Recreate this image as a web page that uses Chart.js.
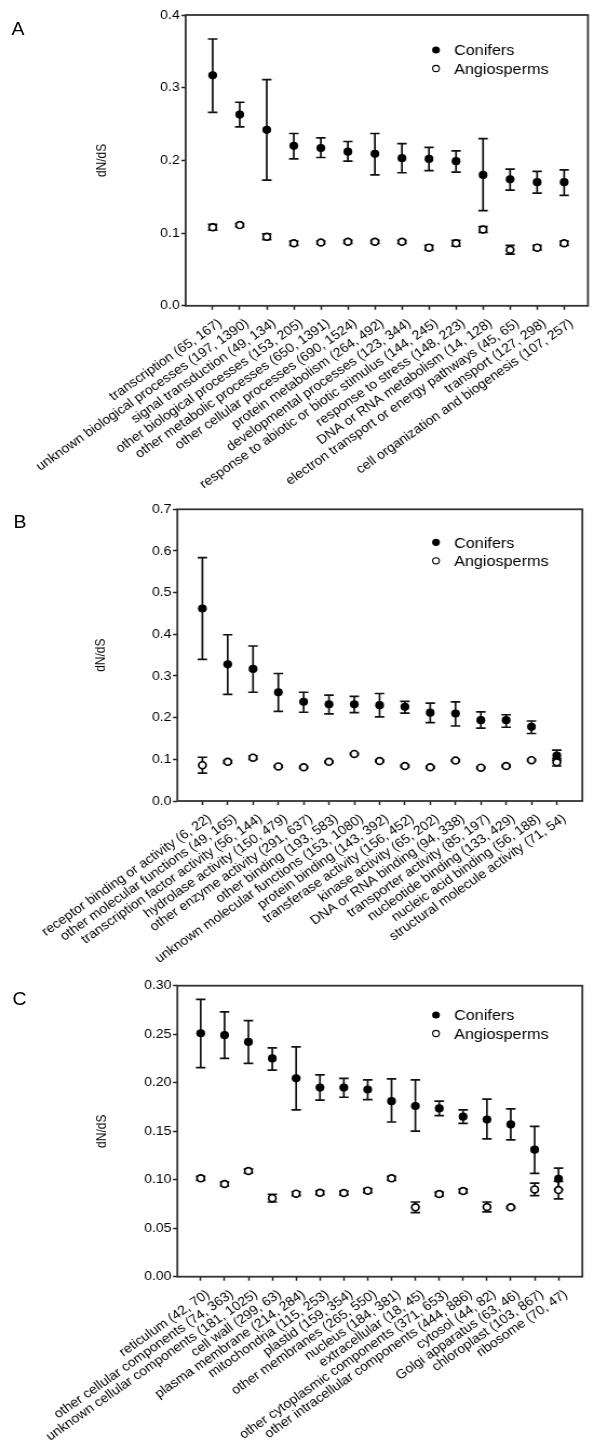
<!DOCTYPE html>
<html><head><meta charset="utf-8">
<script src="https://cdn.jsdelivr.net/npm/chart.js@4.4.1/dist/chart.umd.min.js"></script>
<style>
html,body{margin:0;padding:0;background:#fff;}
body{width:600px;height:1447px;position:relative;overflow:hidden;font-family:"Liberation Sans",Arial,sans-serif;}
#wrap{position:absolute;left:0;top:0;width:556px;height:1447px;transform:scaleX(1.08);transform-origin:0 0;}
canvas{position:absolute;left:0;}
.lbl{position:absolute;font-size:18px;line-height:18px;color:#000;font-family:"Liberation Sans",Arial,sans-serif;}
</style></head><body>
<div id="wrap">
<div class="lbl" style="left:10.6px;top:19.6px">A</div>
<div class="lbl" style="left:12.4px;top:512.6px">B</div>
<div class="lbl" style="left:11.7px;top:989.6px">C</div>
<canvas id="cA" width="556" height="490" style="top:0px;width:556px;height:490px"></canvas>
<canvas id="cB" width="556" height="478" style="top:490px;width:556px;height:478px"></canvas>
<canvas id="cC" width="556" height="479" style="top:968px;width:556px;height:479px"></canvas>
</div>
<script>
// ---- Panel A: biological processes ----
const bpCategories = [
  "transcription (65, 167)",
  "unknown biological processes (197, 1390)",
  "signal transduction (49, 134)",
  "other biological processes (153, 205)",
  "other metabolic processes (650, 1391)",
  "other cellular processes (690, 1524)",
  "protein metabolism (264, 492)",
  "developmental processes (123, 344)",
  "response to abiotic or biotic stimulus (144, 245)",
  "response to stress (148, 223)",
  "DNA or RNA metabolism (14, 128)",
  "electron transport or energy pathways (45, 65)",
  "transport (127, 298)",
  "cell organization and biogenesis (107, 257)"
];
const bpConifers   = [0.317, 0.263, 0.242, 0.220, 0.217, 0.212, 0.209, 0.203, 0.202, 0.199, 0.180, 0.174, 0.170, 0.170];
const bpConifersHi = [0.367, 0.280, 0.311, 0.237, 0.231, 0.226, 0.237, 0.223, 0.218, 0.213, 0.230, 0.188, 0.185, 0.187];
const bpConifersLo = [0.266, 0.246, 0.173, 0.202, 0.204, 0.199, 0.180, 0.183, 0.186, 0.184, 0.131, 0.159, 0.155, 0.152];
const bpAngio      = [0.108, 0.111, 0.095, 0.086, 0.087, 0.088, 0.088, 0.088, 0.080, 0.086, 0.105, 0.077, 0.080, 0.086];
const bpAngioHi    = [0.112, 0.113, 0.099, 0.089, 0.089, 0.090, 0.090, 0.090, 0.083, 0.090, 0.109, 0.083, 0.083, 0.089];
const bpAngioLo    = [0.104, 0.109, 0.091, 0.083, 0.085, 0.086, 0.086, 0.086, 0.077, 0.082, 0.101, 0.071, 0.077, 0.083];
const bpYTicks = [0, 0.4, 0.1];

// ---- Panel B: molecular functions ----
const mfCategories = [
  "receptor binding or activity (6, 22)",
  "other molecular functions (49, 165)",
  "transcription factor activity (56, 144)",
  "hydrolase activity (150, 479)",
  "other enzyme activity (291, 637)",
  "other binding (193, 583)",
  "unknown molecular functions (153, 1080)",
  "protein binding (143, 392)",
  "transferase activity (156, 452)",
  "kinase activity (65, 202)",
  "DNA or RNA binding (94, 338)",
  "transporter activity (85, 197)",
  "nucleotide binding (133, 429)",
  "nucleic acid binding (56, 188)",
  "structural molecule activity (71, 54)"
];
const mfConifers   = [0.462, 0.328, 0.317, 0.261, 0.238, 0.232, 0.232, 0.230, 0.226, 0.212, 0.210, 0.194, 0.194, 0.178, 0.109];
const mfConifersHi = [0.584, 0.399, 0.372, 0.306, 0.261, 0.254, 0.251, 0.258, 0.239, 0.235, 0.238, 0.214, 0.207, 0.192, 0.122];
const mfConifersLo = [0.340, 0.256, 0.261, 0.215, 0.213, 0.209, 0.212, 0.202, 0.211, 0.188, 0.180, 0.175, 0.177, 0.162, 0.098];
const mfAngio      = [0.086, 0.094, 0.104, 0.083, 0.081, 0.094, 0.113, 0.096, 0.084, 0.081, 0.097, 0.080, 0.084, 0.098, 0.093];
const mfAngioHi    = [0.105, 0.097, 0.108, 0.085, 0.083, 0.096, 0.115, 0.098, 0.086, 0.083, 0.099, 0.082, 0.086, 0.100, 0.102];
const mfAngioLo    = [0.067, 0.091, 0.100, 0.081, 0.079, 0.092, 0.111, 0.094, 0.082, 0.079, 0.095, 0.078, 0.082, 0.096, 0.084];
const mfYTicks = [0, 0.7, 0.1];

// ---- Panel C: cellular components ----
const ccCategories = [
  "reticulum (42, 70)",
  "other cellular components (74, 363)",
  "unknown cellular components (181, 1025)",
  "cell wall (299, 63)",
  "plasma membrane (214, 284)",
  "mitochondria (115, 253)",
  "plastid (159, 354)",
  "other membranes (265, 550)",
  "nucleus (184, 381)",
  "extracellular (18, 45)",
  "other cytoplasmic components (371, 653)",
  "other intracellular components (444, 886)",
  "cytosol (44, 82)",
  "Golgi apparatus (63, 46)",
  "chloroplast (103, 867)",
  "ribosome (70, 47)"
];
const ccConifers   = [0.251, 0.249, 0.242, 0.225, 0.2045, 0.195, 0.195, 0.193, 0.181, 0.176, 0.1735, 0.165, 0.162, 0.157, 0.131, 0.101];
const ccConifersHi = [0.286, 0.273, 0.264, 0.236, 0.237, 0.208, 0.2045, 0.203, 0.204, 0.203, 0.181, 0.172, 0.183, 0.173, 0.155, 0.112];
const ccConifersLo = [0.2155, 0.225, 0.220, 0.213, 0.172, 0.182, 0.185, 0.1825, 0.1595, 0.150, 0.166, 0.158, 0.142, 0.141, 0.1065, 0.090];
const ccAngio      = [0.1014, 0.0955, 0.109, 0.081, 0.0856, 0.0866, 0.0863, 0.0887, 0.1014, 0.0715, 0.0852, 0.0883, 0.0718, 0.0715, 0.090, 0.0893];
const ccAngioHi    = [0.1034, 0.0975, 0.111, 0.085, 0.0876, 0.0886, 0.0883, 0.0907, 0.1034, 0.077, 0.0872, 0.0903, 0.077, 0.0725, 0.0965, 0.0983];
const ccAngioLo    = [0.0994, 0.0935, 0.107, 0.077, 0.0836, 0.0846, 0.0843, 0.0867, 0.0994, 0.066, 0.0832, 0.0863, 0.0668, 0.0705, 0.0835, 0.0803];
const ccYTicks = [0, 0.30, 0.05];

const FONT = "'Liberation Sans', Arial, sans-serif";
const INK = '#000';

const errorBarPlugin = {
  id: 'errbars',
  beforeDatasetsDraw(chart, args, opts) {
    const ctx = chart.ctx, xs = chart.scales.x, ys = chart.scales.y;
    ctx.save();
    ctx.strokeStyle = '#111'; ctx.lineWidth = 1.7;
    opts.sets.forEach(set => {
      set.hi.forEach((h, i) => {
        const x = xs.getPixelForValue(i);
        const yh = ys.getPixelForValue(h), yl = ys.getPixelForValue(set.lo[i]);
        ctx.beginPath();
        ctx.moveTo(x, yh); ctx.lineTo(x, yl);
        ctx.moveTo(x - 4.4, yh); ctx.lineTo(x + 4.4, yh);
        ctx.moveTo(x - 4.4, yl); ctx.lineTo(x + 4.4, yl);
        ctx.stroke();
      });
    });
    ctx.restore();
  }
};

const framePlugin = {
  id: 'frame',
  afterDatasetsDraw(chart) {
    const {ctx, chartArea: a} = chart;
    ctx.save();
    ctx.strokeStyle = '#333'; ctx.lineWidth = 1.8;
    ctx.strokeRect(a.left, a.top, a.right - a.left, a.bottom - a.top);
    ctx.restore();
  }
};

const legendPlugin = {
  id: 'mylegend',
  afterDraw(chart, args, opts) {
    const ctx = chart.ctx;
    ctx.save();
    ctx.font = '15px ' + FONT;
    ctx.textBaseline = 'alphabetic';
    ctx.beginPath(); ctx.arc(opts.x, opts.y, 3.6, 0, Math.PI * 2); ctx.fillStyle = '#000'; ctx.fill();
    ctx.fillStyle = INK; ctx.fillText(opts.labels[0], opts.x + 16.7, opts.y + 5.3);
    const y2 = opts.y + 18.5;
    ctx.beginPath(); ctx.arc(opts.x, y2, 3.1, 0, Math.PI * 2);
    ctx.fillStyle = '#fff'; ctx.fill(); ctx.strokeStyle = '#000'; ctx.lineWidth = 1.1; ctx.stroke();
    ctx.fillStyle = INK; ctx.fillText(opts.labels[1], opts.x + 16.7, y2 + 5.3);
    ctx.restore();
  }
};

function makeChart(id, cats, con, conHi, conLo, ang, angHi, angLo, yTicks, yDec, L) {
  new Chart(document.getElementById(id), {
    type: 'scatter',
    data: {
      datasets: [
        { label: 'Conifers', order: 1, data: con.map((v, i) => ({x: i, y: v})),
          pointRadius: 4.1, pointHoverRadius: 4.1, pointBackgroundColor: '#000', pointBorderColor: '#000', pointBorderWidth: 0, showLine: false },
        { label: 'Angiosperms', order: 0, data: ang.map((v, i) => ({x: i, y: v})),
          pointRadius: 3.4, pointHoverRadius: 3.4, pointBackgroundColor: '#fff', pointBorderColor: '#000', pointBorderWidth: 1.7, showLine: false }
      ]
    },
    options: {
      responsive: false, animation: false, devicePixelRatio: 1,
      layout: { padding: { left: L.left, right: L.right, top: L.top, bottom: 0 } },
      plugins: {
        legend: { display: false }, tooltip: { enabled: false },
        errbars: { sets: [{hi: conHi, lo: conLo}, {hi: angHi, lo: angLo}] },
        mylegend: { x: 403.7, y: L.legendY, labels: ['Conifers', 'Angiosperms'] }
      },
      scales: {
        x: {
          type: 'linear', min: L.xMin, max: L.xMax,
          afterBuildTicks: s => { s.ticks = cats.map((c, i) => ({value: i})); },
          afterFit: s => { s.height = L.xHeight; s.paddingLeft = 0; s.paddingRight = 0; },
          ticks: { autoSkip: false, minRotation: 37, maxRotation: 37, padding: 6, labelOffset: 7,
                   font: { size: 13, family: FONT }, color: INK,
                   callback: v => cats[v] },
          grid: { drawOnChartArea: false, drawTicks: true, tickLength: 4, tickWidth: 1.5, color: '#222' },
          border: { display: false }
        },
        y: {
          type: 'linear', min: yTicks[0], max: yTicks[1],
          afterFit: s => { s.width = L.yWidth; s.paddingTop = 0; s.paddingBottom = 0; },
          ticks: { stepSize: yTicks[2], padding: 1.5, font: { size: 13, family: FONT }, color: INK,
                   callback: v => Number(v).toFixed(yDec) },
          grid: { drawOnChartArea: false, drawTicks: true, tickLength: 4, tickWidth: 1.5, color: '#222' },
          border: { display: false },
          title: { display: true, text: 'dN/dS', padding: 0, font: { size: 12, family: FONT }, color: INK }
        }
      }
    },
    plugins: [errorBarPlugin, framePlugin, legendPlugin]
  });
}

makeChart('cA', bpCategories, bpConifers, bpConifersHi, bpConifersLo, bpAngio, bpAngioHi, bpAngioLo, bpYTicks, 1,
  { left: 87.2, right: 11.6, top: 15, yWidth: 84.7, xHeight: 184.2, xMin: -1.0, xMax: 13.88, legendY: 50 });
makeChart('cB', mfCategories, mfConifers, mfConifersHi, mfConifersLo, mfAngio, mfAngioHi, mfAngioLo, mfYTicks, 1,
  { left: 86.3, right: 16.8, top: 19.3, yWidth: 77.9, xHeight: 167, xMin: -0.99, xMax: 15.01, legendY: 52.3 });
makeChart('cC', ccCategories, ccConifers, ccConifersHi, ccConifersLo, ccAngio, ccAngioHi, ccAngioLo, ccYTicks, 2,
  { left: 87, right: 16.8, top: 17.7, yWidth: 77.2, xHeight: 170.3, xMin: -0.98, xMax: 16.0, legendY: 47 });
</script>
</body></html>
